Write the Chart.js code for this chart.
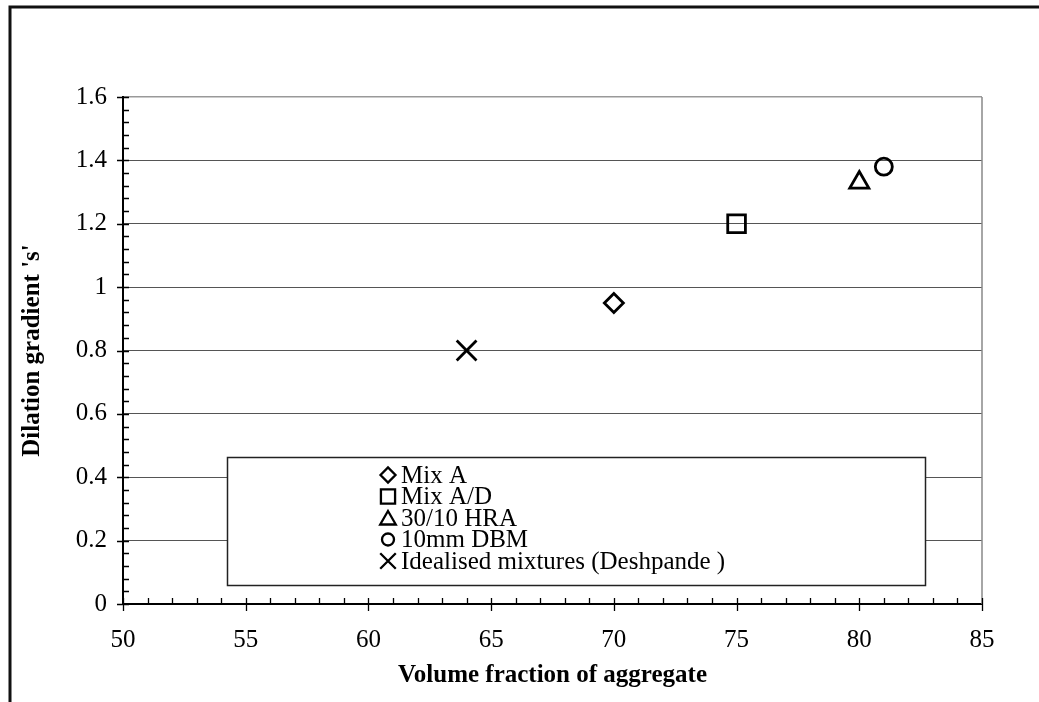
<!DOCTYPE html>
<html><head><meta charset="utf-8">
<script src="https://cdn.jsdelivr.net/npm/chart.js@4.4.1/dist/chart.umd.min.js"></script>
<style>html,body{margin:0;padding:0;background:#fff}#wrap{width:1039px;height:702px;position:relative}</style>
</head><body><div id="wrap"><canvas id="c" width="1039" height="702"></canvas></div>
<script>
// ---- data ----
const seriesNames = ['Mix A', 'Mix A/D', '30/10 HRA', '10mm DBM', 'Idealised mixtures (Deshpande )'];
const seriesX = [70, 75, 80, 81, 64];
const seriesY = [0.95, 1.20, 1.33, 1.38, 0.80];
const xTickLabels = ['50', '55', '60', '65', '70', '75', '80', '85'];
const yTickLabels = ['0', '0.2', '0.4', '0.6', '0.8', '1', '1.2', '1.4', '1.6'];
const xTitle = 'Volume fraction of aggregate';
const yTitle = "Dilation gradient 's'";

// ---- styles ----
const markerStyles = ['rectRot', 'rect', 'triangle', 'circle', 'crossRot'];
const markerRadius = [9.5, 12.5, 11, 8.5, 14];
const legendRadius = [7.5, 10, 9, 6, 11];
const SERIF = '"Liberation Serif", "Times New Roman", serif';

const datasets = seriesNames.map((name, i) => ({
  label: name,
  data: [{x: seriesX[i], y: seriesY[i]}],
  pointStyle: markerStyles[i],
  pointRadius: markerRadius[i],
  pointHoverRadius: markerRadius[i],
  pointBorderWidth: 2.8,
  borderColor: '#000',
  backgroundColor: 'rgba(0,0,0,0)',
  pointBackgroundColor: 'rgba(0,0,0,0)',
  pointBorderColor: '#000',
  showLine: false
}));

const decorPlugin = {
  id: 'decor',
  beforeDraw(chart) {
    const c = chart.ctx;
    c.save();
    c.fillStyle = '#fff';
    c.fillRect(0, 0, chart.width, chart.height);
    c.restore();
  },
  afterDraw(chart) {
    const c = chart.ctx;
    const xs = chart.scales.x, ys = chart.scales.y;
    const a = chart.chartArea;
    c.save();
    // right border of plot
    c.strokeStyle = '#888';
    c.lineWidth = 1.5;
    c.beginPath();
    c.moveTo(a.right, a.top); c.lineTo(a.right, a.bottom);
    c.stroke();
    // tick marks
    c.strokeStyle = '#000';
    c.lineWidth = 1.3;
    c.beginPath();
    for (let v = xs.min; v <= xs.max + 1e-9; v += 1) {
      const px = Math.round(xs.getPixelForValue(v)) + 0.5;
      const major = Math.abs(v % 5) < 1e-9;
      c.moveTo(px, a.bottom - 6);
      c.lineTo(px, a.bottom + (major ? 7 : 0));
    }
    for (let k = 0; k <= 40; k++) {
      const v = k * 0.04;
      const py = Math.round(ys.getPixelForValue(v)) + 0.5;
      const major = k % 5 === 0;
      c.moveTo(a.left + 6, py);
      c.lineTo(a.left - (major ? 6 : 0), py);
    }
    c.stroke();
    // outer frame (left and top)
    c.strokeStyle = '#111';
    c.lineWidth = 3;
    c.beginPath();
    c.moveTo(10, chart.height);
    c.lineTo(10, 7);
    c.lineTo(chart.width, 7);
    c.stroke();
    c.restore();
  },
  afterDatasetsDraw(chart) {
    const c = chart.ctx;
    const box = {l: 227, t: 457, r: 925, b: 585};
    c.save();
    c.fillStyle = '#fff';
    c.fillRect(box.l, box.t, box.r - box.l, box.b - box.t);
    c.strokeStyle = '#222';
    c.lineWidth = 1.5;
    c.strokeRect(box.l + 0.5, box.t + 0.5, box.r - box.l, box.b - box.t);
    const mx = 388, tx = 401, y0 = 475, step = 21.5;
    c.font = '25px ' + SERIF;
    c.textBaseline = 'middle';
    c.textAlign = 'left';
    chart.data.datasets.forEach((ds, i) => {
      const y = y0 + i * step;
      c.strokeStyle = '#000';
      c.fillStyle = 'rgba(0,0,0,0)';
      c.lineWidth = 2.3;
      Chart.helpers.drawPoint(c, {pointStyle: markerStyles[i], radius: legendRadius[i], borderWidth: 2.3}, mx, y + (markerStyles[i] === 'triangle' ? 2 : 0));
      c.fillStyle = '#000';
      c.fillText(ds.label, tx, y + 1);
    });
    c.restore();
  }
};

new Chart(document.getElementById('c'), {
  type: 'scatter',
  data: {datasets},
  options: {
    responsive: false,
    animation: false,
    events: [],
    layout: {padding: {left: 0, top: 97, right: 57, bottom: 0}},
    plugins: {legend: {display: false}, tooltip: {enabled: false}},
    scales: {
      x: {
        type: 'linear', min: 50, max: 85,
        afterFit(s) { s.height = 98; },
        grid: {display: false, drawTicks: false},
        border: {display: true, color: '#000', width: 2},
        ticks: {
          stepSize: 5, padding: 21, color: '#000',
          font: {family: SERIF, size: 25},
          callback: (v, i) => xTickLabels[i]
        },
        title: {display: true, text: xTitle, color: '#000',
          font: {family: SERIF, size: 25, weight: 'bold'}, padding: {top: 0, bottom: 11}}
      },
      y: {
        type: 'linear', min: 0, max: 1.6,
        afterFit(s) { s.width = 123; },
        grid: {
          drawTicks: false,
          color: (ctx) => (ctx.tick && ctx.tick.value === 0) ? 'rgba(0,0,0,0)' : (ctx.tick && Math.abs(ctx.tick.value - 1.6) < 1e-6 ? '#999' : '#555'),
          lineWidth: (ctx) => (ctx.tick && Math.abs(ctx.tick.value - 1.6) < 1e-6) ? 1.5 : 1
        },
        border: {display: true, color: '#000', width: 2},
        ticks: {
          stepSize: 0.2, padding: 16, color: '#000',
          font: {family: SERIF, size: 25},
          callback: (v, i) => yTickLabels[i]
        },
        title: {display: true, text: yTitle, color: '#000',
          font: {family: SERIF, size: 25, weight: 'bold'}, padding: {top: 18, bottom: 0}}
      }
    }
  },
  plugins: [decorPlugin]
});
</script>
</body></html>
